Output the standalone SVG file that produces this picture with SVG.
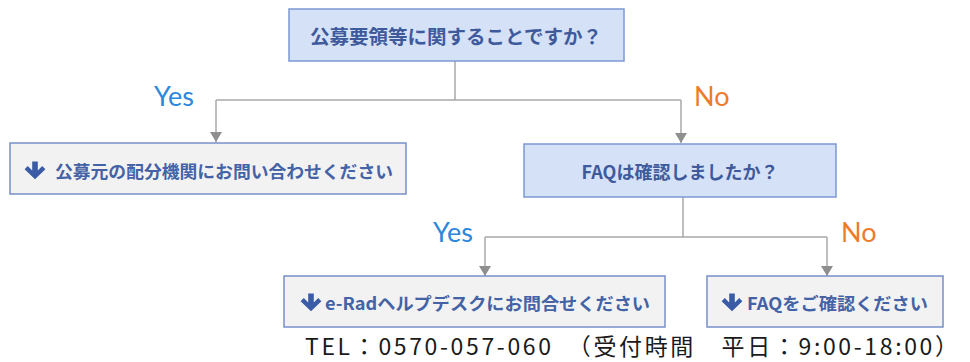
<svg xmlns="http://www.w3.org/2000/svg" width="970" height="362" viewBox="0 0 970 362">
<style>
.q{fill:#D5E1F6;stroke:#7C98D2;stroke-width:1.5}
.a{fill:#F2F2F2;stroke:#7690C9;stroke-width:1.5}
.qt{font-family:"Noto Sans CJK JP",sans-serif;font-weight:bold;fill:#3E5A9C;text-anchor:middle;dominant-baseline:central}
.at{font-family:"Noto Sans CJK JP",sans-serif;font-weight:bold;fill:#4462A6;font-size:17.6px;dominant-baseline:central}
.yes{font-family:Lato,"Open Sans",sans-serif;font-size:27px;fill:#2D87DB}
.no{font-family:Lato,"Open Sans",sans-serif;font-size:27px;fill:#EE7A2B}
.ln{fill:none;stroke:#A8A8A8;stroke-width:1.5}
.ic{fill:#3A5BA6}
.tel{font-family:"Noto Sans CJK JP",sans-serif;font-size:23px;fill:#1A1A1A}
</style>
<defs>
<marker id="ah" viewBox="0 -6 10 12" markerWidth="10" markerHeight="12" refX="10" refY="0" orient="auto" markerUnits="userSpaceOnUse">
<path d="M0,-6 L10,0 L0,6 z" fill="#8F8F8F"/>
</marker>
<path id="darrow" d="M-2.8,-8.5 H2.8 V0.5 L7.2,-3.9 L10.4,-0.7 L0,9.2 L-10.4,-0.7 L-7.2,-3.9 L-2.8,0.5 Z"/>
</defs>
<g id="connectors">
<path class="ln" d="M455,61 V100"/>
<path class="ln" d="M216,100 H681"/>
<path class="ln" d="M216,100 V142" marker-end="url(#ah)"/>
<path class="ln" d="M681,100 V143" marker-end="url(#ah)"/>
<path class="ln" d="M683,197 V237"/>
<path class="ln" d="M485,237 H827"/>
<path class="ln" d="M485,237 V276" marker-end="url(#ah)"/>
<path class="ln" d="M827,237 V276" marker-end="url(#ah)"/>
</g>
<g id="labels">
<text class="yes" x="154" y="106">Yes</text>
<text class="no" x="694" y="106">No</text>
<text class="yes" x="433" y="242">Yes</text>
<text class="no" x="841" y="242">No</text>
</g>
<g id="q1">
<rect class="q" x="289" y="9" width="335" height="52"/>
<text class="qt" x="456" y="35" font-size="19.5">公募要領等に関することですか？</text>
</g>
<g id="a1">
<rect class="a" x="10" y="143" width="396" height="51"/>
<use href="#darrow" class="ic" x="35" y="170"/>
<text class="at" x="55" y="170" textLength="338" lengthAdjust="spacingAndGlyphs">公募元の配分機関にお問い合わせください</text>
</g>
<g id="q2">
<rect class="q" x="524" y="144" width="312" height="53"/>
<text class="qt" x="680" y="171" font-size="18">FAQは確認しましたか？</text>
</g>
<g id="a2">
<rect class="a" x="284" y="276" width="381" height="51"/>
<use href="#darrow" class="ic" x="311" y="302"/>
<text class="at" x="325" y="302" textLength="325" lengthAdjust="spacingAndGlyphs">e-Radヘルプデスクにお問合せください</text>
</g>
<g id="a3">
<rect class="a" x="707" y="276" width="236" height="51"/>
<use href="#darrow" class="ic" x="732" y="302"/>
<text class="at" x="747" y="302" textLength="181" lengthAdjust="spacingAndGlyphs">FAQをご確認ください</text>
</g>
<g id="tel">
<text class="tel" x="305" y="355" textLength="653" lengthAdjust="spacing">TEL：0570-057-060　（受付時間　平日：9:00-18:00）</text>
</g>
</svg>
